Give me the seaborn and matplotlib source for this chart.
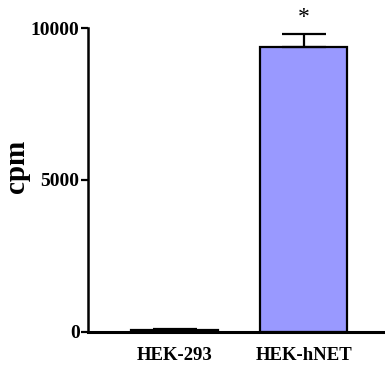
import matplotlib
matplotlib.use("Agg")
import matplotlib.pyplot as plt
import seaborn as sns
import pandas as pd

# Uptake measured in the two cell lines (mean counts per minute and SEM)
cells = ["HEK-293", "HEK-hNET"]
cpm_mean = [60, 9380]
cpm_sem = [40, 420]
significance = ["", "*"]

sns.set_theme(style="ticks", rc={
    "axes.edgecolor": "black", "text.color": "black",
    "axes.labelcolor": "black", "xtick.color": "black", "ytick.color": "black",
})
plt.rcParams["font.family"] = ["Liberation Serif", "DejaVu Serif"]
plt.rcParams["font.weight"] = "bold"

df = pd.DataFrame({"cells": cells, "cpm": cpm_mean})

fig = plt.figure(figsize=(3.85, 3.75), dpi=100)
ax = fig.add_axes([0.2286, 0.1147, 0.7714, 0.8106])

sns.barplot(data=df, x="cells", y="cpm", color="#9999FF", saturation=1,
            width=0.67, edgecolor="black", linewidth=1.6, errorbar=None, ax=ax)

# upper-only SEM whiskers
ax.errorbar(range(len(cells)), cpm_mean, yerr=[[0] * len(cells), cpm_sem],
            fmt="none", ecolor="black", elinewidth=1.6, capsize=16,
            capthick=1.6, clip_on=False, zorder=5)

for i, (m, s, mark) in enumerate(zip(cpm_mean, cpm_sem, significance)):
    if mark:
        ax.text(i, m + s + 200, mark, ha="center", va="bottom",
                fontsize=17, fontweight="normal", clip_on=False)

ax.set_ylim(0, 10000)
ax.set_xlim(-0.67, 1.63)
ax.set_yticks([0, 5000, 10000])
ax.set_yticklabels(["0", "5000", "10000"])
ax.set_xlabel("")
ax.set_ylabel("")
fig.text(0.044, 0.555, "cpm", rotation=90, ha="center", va="center",
         fontsize=21, fontweight="bold")

ax.tick_params(axis="y", direction="out", length=5, width=1.6,
               labelsize=14, pad=1)
ax.tick_params(axis="x", length=0, labelsize=13.5, pad=11)
for lab in ax.get_xticklabels() + ax.get_yticklabels():
    lab.set_fontweight("bold")

sns.despine(ax=ax, top=True, right=True)
ax.spines["left"].set_linewidth(1.8)
ax.spines["bottom"].set_linewidth(2.2)

fig.savefig("out.png", dpi=100)
